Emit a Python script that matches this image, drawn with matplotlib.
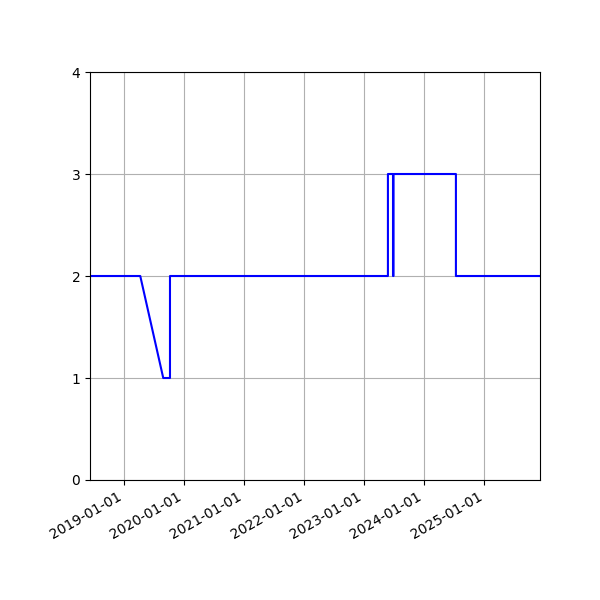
import numpy as np
import matplotlib
matplotlib.use('Agg')
import matplotlib.pyplot as plt
import matplotlib.dates as mdates

dates = np.array([
    '2018-06-06', '2019-04-08', '2019-08-26', '2019-10-06', '2019-10-06',
    '2023-05-25', '2023-05-25', '2023-06-25', '2023-06-25', '2023-06-28',
    '2023-06-28', '2024-07-12', '2024-07-12', '2025-12-06',
], dtype='datetime64[D]')
values = [2, 2, 1, 1, 2, 2, 3, 3, 2, 2, 3, 3, 2, 2]

fig, ax = plt.subplots(figsize=(6, 6), dpi=100)
ax.plot(dates, values, color='blue')
ax.set_xlim(dates[0], dates[-1])
ax.set_ylim(0, 4)
ax.set_yticks([0, 1, 2, 3, 4])
ax.xaxis.set_major_locator(mdates.YearLocator())
ax.xaxis.set_major_formatter(mdates.DateFormatter('%Y-%m-%d'))
ax.grid(True)
fig.autofmt_xdate()
fig.subplots_adjust(left=0.15, right=0.9, top=0.88, bottom=0.2)

fig.savefig('out.png')
